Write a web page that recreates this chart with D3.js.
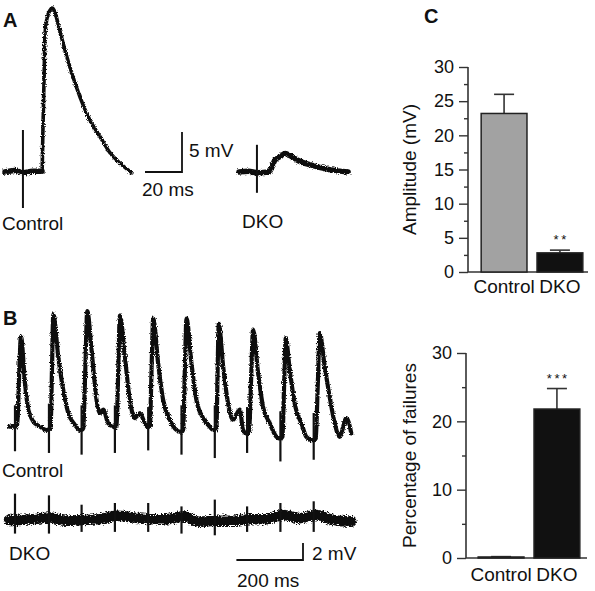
<!DOCTYPE html>
<html><head><meta charset="utf-8">
<script src="https://cdn.jsdelivr.net/npm/d3@7"></script>
<style>
html,body{margin:0;padding:0;background:#fff;}
text{font-family:"Liberation Sans",Arial,Helvetica,sans-serif;fill:#111;}
</style></head>
<body><svg id="fig" width="595" height="591"></svg>
<script>
// ---------- DATA ----------
// Panel A traces: [time (ms), voltage (mV)]
const aControlTrace = [[0,0],[5,0.2],[10,-0.1],[15,0.1],[20,0.1],[20.5,5.2],[21.1,11.5],[21.6,17.2],[22.7,19.2],[24.3,20.2],[25.4,20.5],[27,20],[28.6,18.6],[31.4,16.1],[35.1,13.1],[40.5,9.4],[45.9,6.5],[51.4,4.4],[56.8,2.4],[62.2,1.1],[68.6,-0.1]];
const aControlArtifact = [9.7, 5.25, -4.5];
const aDkoTrace = [[0,0],[5,0.1],[10,-0.1],[16.2,0],[19.5,1.5],[22,1.9],[24.9,2.3],[28,2.0],[31.4,1.5],[40,0.8],[49,0.3],[59,0]];
const aDkoArtifact = [9.7, 3.4, -2.6];
const scaleBarA = {ms: 20, mV: 5};

// Panel B traces: [time (ms), voltage (mV)]
const bControlTrace = [[0,0.4],[17,0.4],[25,0.5],[30,6],[36,11.0],[48,5.5],[58,2.4],[73,1.0],[93,0.4],[113,0],
 [121,0.1],[125,0.2],[129,7],[133,13.6],[148,8.6],[163,4.7],[178,2.0],[198,0.6],[213,0],
 [219,0],[223,0.2],[229,7],[235,14.0],[248,9.4],[263,3.5],[273,2.0],[283,2.4],[298,0.8],[313,0.4],
 [319,0.3],[323,0.4],[328,7],[333,13.5],[348,8.6],[363,3.5],[378,1.4],[393,2.0],[408,0.8],[415,0.4],
 [419,0.4],[423,0.4],[428,7],[433,13.1],[448,7.8],[463,3.5],[483,1.2],[503,0],[513,-0.2],
 [519,-0.2],[523,0],[528,7],[533,13.1],[548,7.8],[563,3.5],[583,1.4],[603,0.4],[613,0],
 [619,0],[623,0.2],[626,6],[630,12.5],[643,7.5],[658,3.1],[673,1.2],[693,2.4],[703,0],[713,-0.4],
 [716,-0.4],[721,-0.2],[727,6],[733,11.8],[748,6.7],[763,2.7],[783,0.8],[803,-0.8],[811,-1.0],
 [816,-1.0],[821,-0.8],[826,5],[831,10.8],[843,7.1],[858,3.1],[865,2.0],[878,0.8],[893,-0.8],[911,-1.2],
 [916,-1.2],[921,-1.0],[927,5],[933,11.4],[948,7.5],[963,3.9],[978,0.8],[993,-0.8],[1013,1.4],[1028,-0.4]];
// stimulus artifacts: [time (ms), upward peak (mV), downward peak (mV)]
const bControlArtifacts = [[18,2.9,-2.5],[120,3.1,-2.7],[218,2.9,-2.9],[318,2.9,-2.7],[418,2.7,-2.4],[518,2.9,-2.9],[618,2.9,-3.3],[715,2.7,-2.7],[815,2.2,-3.7],[915,2.0,-3.5]];
const bDkoTrace = [[0,0],[73,0.1],[123,0.3],[173,-0.1],[223,0],[273,0.1],[323,0.5],[373,0.3],[423,0.1],[473,0.1],[523,0.4],[573,-0.2],[623,-0.1],[673,-0.1],[723,0.1],[773,0.1],[823,0.6],[873,0.2],[923,0.6],[973,0],[1028,-0.2]];
const bDkoArtifacts = [[18,3.1,-1.6],[120,2.9,-1.6],[218,1.8,-1.4],[318,2.0,-1.4],[418,2.0,-1.4],[518,1.6,-1.6],[618,2.4,-1.8],[715,1.6,-1.4],[815,2.0,-1.4],[915,2.2,-1.4]];
const scaleBarB = {ms: 200, mV: 2};

// Panel C bar charts
const categories = ["Control", "DKO"];
const amplitudeMean = [23.2, 2.8];
const amplitudeSem = [2.8, 0.4];
const amplitudeStars = ["", "**"];
const amplitudeTicks = [0, 5, 10, 15, 20, 25, 30];
const amplitudeMinorTicks = [2.5, 7.5, 12.5, 17.5, 22.5, 27.5];
const failureMean = [0.15, 21.8];
const failureSem = [0.05, 3.0];
const failureStars = ["", "***"];
const failureTicks = [0, 10, 20, 30];
const failureMinorTicks = [5, 15, 25];
const barFills = ["#a2a2a2", "#111111"];

// ---------- DRAW ----------
const svg = d3.select("#fig");
const defs = svg.append("defs");
function roughFilter(id, freq, scale) {
  const f = defs.append("filter").attr("id", id).attr("filterUnits","userSpaceOnUse")
    .attr("x",0).attr("y",0).attr("width",595).attr("height",591);
  f.append("feTurbulence").attr("type","fractalNoise").attr("baseFrequency",freq)
    .attr("numOctaves",1).attr("seed",4).attr("result","n");
  f.append("feDisplacementMap").attr("in","SourceGraphic").attr("in2","n")
    .attr("scale",scale).attr("xChannelSelector","R").attr("yChannelSelector","G");
}
roughFilter("rough", "0.8 0.9", 4);
roughFilter("rough2", "0.7 0.9", 7);

svg.append("rect").attr("width",595).attr("height",591).attr("fill","#fff");

function label(txt, x, y, opts={}) {
  const t = svg.append("text").attr("x", x).attr("y", y).text(txt)
    .attr("font-size", opts.size || 19);
  if (opts.weight) t.attr("font-weight", opts.weight);
  if (opts.anchor) t.attr("text-anchor", opts.anchor);
  return t;
}

// Panel letters
label("A", 3, 27, {size: 20, weight: "bold"});
label("B", 3, 325, {size: 20, weight: "bold"});
label("C", 424, 23, {size: 20, weight: "bold"});

// ---- Panel A ----
const xA = d3.scaleLinear().domain([0, 20]).range([0, 37]);
const yA = d3.scaleLinear().domain([0, 5]).range([172, 132]);
const lineA = (x0) => d3.line().x(d => x0 + xA(d[0])).y(d => yA(d[1])).curve(d3.curveMonotoneX);

function drawTrace(data, line, width, filt) {
  const p = svg.append("path").datum(data).attr("d", line).attr("fill","none")
    .attr("stroke","#111").attr("stroke-width", width)
    .attr("stroke-linejoin","round").attr("stroke-linecap","round");
  if (filt) p.attr("filter", `url(#${filt})`);
}
function drawArtifact(a, xf, yf, w) {
  svg.append("line").attr("x1", xf(a[0])).attr("x2", xf(a[0]))
    .attr("y1", yf(a[1])).attr("y2", yf(a[2]))
    .attr("stroke","#111").attr("stroke-width", w);
}

drawTrace(aControlTrace.filter(d => d[0] <= 20), lineA(5), 5.5, "rough");
drawTrace(aControlTrace, lineA(5), 3.6, "rough");
drawArtifact(aControlArtifact, t => 5 + xA(t), yA, 2);
drawTrace(aDkoTrace, lineA(239), 5.5, "rough");
drawArtifact(aDkoArtifact, t => 239 + xA(t), yA, 2);

// scale bar A
{
  const xr = 182, yb = yA(0);
  svg.append("path").attr("d", `M${xr - xA(scaleBarA.ms)},${yb}H${xr}V${yA(scaleBarA.mV)}`)
    .attr("fill","none").attr("stroke","#111").attr("stroke-width",1.8);
  label(`${scaleBarA.mV} mV`, 189, 157);
  label(`${scaleBarA.ms} ms`, 142, 196);
}
label("Control", 2, 230);
label("DKO", 242, 228);

// ---- Panel B ----
const xB = d3.scaleLinear().domain([0, 1030]).range([9, 352]);
const yBc = d3.scaleLinear().domain([0, 2]).range([430, 413]);
const yBd = d3.scaleLinear().domain([0, 2]).range([520, 503]);
const lineBc = d3.line().x(d => xB(d[0])).y(d => yBc(d[1])).curve(d3.curveMonotoneX);
const lineBd = d3.line().x(d => xB(d[0])).y(d => yBd(d[1])).curve(d3.curveMonotoneX);
drawTrace(bControlTrace, lineBc, 4.2, "rough");
bControlArtifacts.forEach(a => drawArtifact(a, xB, yBc, 2.2));
drawTrace(bDkoTrace, lineBd, 10.5, "rough2");
bDkoArtifacts.forEach(a => drawArtifact(a, xB, yBd, 2.2));

{
  const xr = 303, yb = 560;
  const w = xB(scaleBarB.ms) - xB(0), h = yBc(0) - yBc(scaleBarB.mV);
  svg.append("path").attr("d", `M${xr - w},${yb}H${xr}V${yb - h}`)
    .attr("fill","none").attr("stroke","#111").attr("stroke-width",1.8);
  label(`${scaleBarB.mV} mV`, 312, 560);
  label(`${scaleBarB.ms} ms`, 237, 587);
}
label("Control", 2, 477);
label("DKO", 9, 560);

// ---- Panel C ----
function barChart(opts) {
  const {means, sems, stars, ticks, minor, xRange, yRange, axisX, axisEnd, title, titleX} = opts;
  const x = d3.scaleBand().domain(categories).range(xRange).paddingInner(0.18).paddingOuter(0.2);
  const y = d3.scaleLinear().domain([0, 30]).range(yRange);
  const g = svg.append("g");
  const ax = g.append("g").attr("transform", `translate(${axisX},0)`)
    .call(d3.axisLeft(y).tickValues(ticks).tickSize(9).tickPadding(5).tickFormat(d3.format("d")));
  ax.select(".domain").attr("stroke","#333").attr("stroke-width",1.6).attr("d", `M0,${y(0)}V${y(30)}`);
  ax.selectAll(".tick line").attr("stroke","#333").attr("stroke-width",1.4);
  ax.selectAll(".tick text").attr("font-size", 18).attr("font-family", '"Liberation Sans",Arial,sans-serif').attr("fill","#111");
  const ax2 = g.append("g").attr("transform", `translate(${axisX},0)`)
    .call(d3.axisLeft(y).tickValues(minor).tickSize(4).tickFormat(""));
  ax2.select(".domain").remove();
  ax2.selectAll(".tick line").attr("stroke","#333").attr("stroke-width",1.4);
  g.append("line").attr("x1", axisX).attr("x2", axisEnd).attr("y1", y(0)).attr("y2", y(0))
    .attr("stroke","#333").attr("stroke-width",1.6);
  categories.forEach((c, i) => {
    const cx = x(c) + x.bandwidth() / 2;
    g.append("line").attr("x1", cx).attr("x2", cx).attr("y1", y(means[i])).attr("y2", y(means[i] + sems[i]))
      .attr("stroke","#333").attr("stroke-width",1.6);
    g.append("line").attr("x1", cx - 10).attr("x2", cx + 10).attr("y1", y(means[i] + sems[i])).attr("y2", y(means[i] + sems[i]))
      .attr("stroke","#333").attr("stroke-width",1.6);
    if (stars[i]) {
      g.append("text").attr("x", cx).attr("y", y(means[i] + sems[i]) - 6).attr("text-anchor","middle")
        .attr("font-size", 13).attr("fill", "#333").text(stars[i].split("").join("\u2009"));
    }
  });
  g.selectAll("rect.bar").data(categories).enter().append("rect")
    .attr("x", d => x(d)).attr("width", x.bandwidth())
    .attr("y", (d, i) => y(means[i])).attr("height", (d, i) => y(0) - y(means[i]))
    .attr("fill", (d, i) => barFills[i]).attr("stroke", "#222").attr("stroke-width", 1.5);
  categories.forEach(c => {
    g.append("text").attr("x", x(c) + x.bandwidth() / 2).attr("y", opts.labelY)
      .attr("text-anchor","middle").attr("font-size", 19).text(c);
  });
  const midY = (yRange[0] + yRange[1]) / 2;
  g.append("text").attr("transform", `translate(${titleX},${midY}) rotate(-90)`)
    .attr("text-anchor","middle").attr("font-size", 19).text(title);
}

barChart({means: amplitudeMean, sems: amplitudeSem, stars: amplitudeStars, ticks: amplitudeTicks,
  minor: amplitudeMinorTicks, xRange: [470, 594], yRange: [272, 67], axisX: 468, axisEnd: 588,
  title: "Amplitude (mV)", titleX: 416, labelY: 293});
barChart({means: failureMean, sems: failureSem, stars: failureStars, ticks: failureTicks,
  minor: failureMinorTicks, xRange: [467, 591], yRange: [558, 353], axisX: 466, axisEnd: 587,
  title: "Percentage of failures", titleX: 416, labelY: 581});
</script></body></html>
